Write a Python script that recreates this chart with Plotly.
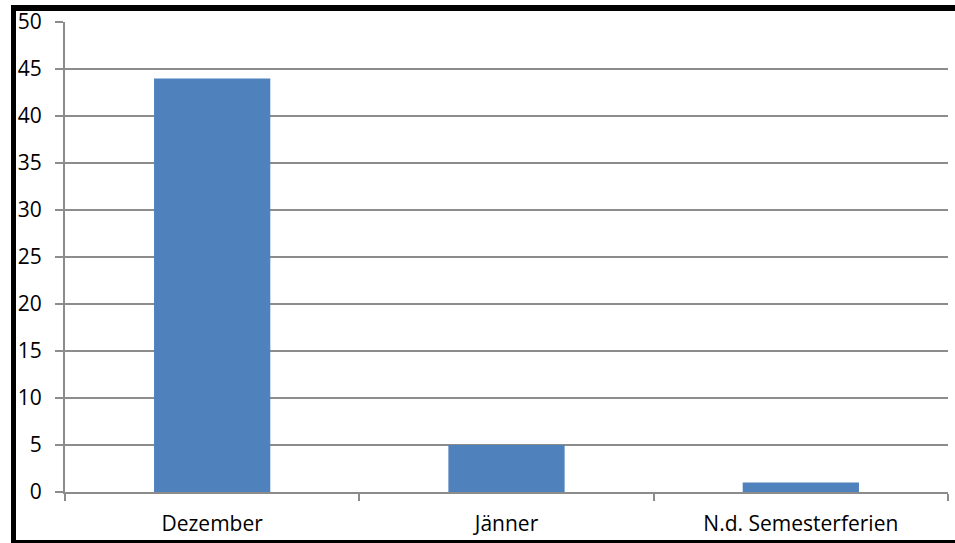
import plotly.graph_objects as go

categories = ["Dezember", "Jänner", "N.d. Semesterferien"]
values = [44, 5, 1]
y_ticks = [0, 5, 10, 15, 20, 25, 30, 35, 40, 45, 50]

W, H = 955, 543
L, R, T, B = 65, 7, 22, 51
pw, ph = W - L - R, H - T - B

def px(x):
    return (x - L) / pw

def py(y):
    return (H - B - y) / ph

fig = go.Figure(go.Bar(x=categories, y=values, marker=dict(color="#4f81bd", line=dict(width=0))))

grid = "#8c8c8c"
font = dict(family="Open Sans", size=21, color="#000000")

fig.update_layout(
    width=W, height=H,
    margin=dict(l=L, r=R, t=T, b=B, pad=0, autoexpand=False),
    paper_bgcolor="white", plot_bgcolor="white",
    bargap=0.605,
    showlegend=False,
    font=font,
    xaxis=dict(
        type="category", tickson="boundaries", ticks="outside", ticklen=7, tickwidth=2, tickcolor=grid,
        showline=True, linecolor=grid, linewidth=2, showgrid=False, tickfont=font,
        ticklabelstandoff=12, automargin=False,
    ),
    yaxis=dict(
        range=[0, 50], tickvals=y_ticks, ticktext=[str(v) for v in y_ticks],
        ticks="outside", ticklen=8, tickwidth=2, tickcolor=grid,
        showline=True, linecolor=grid, linewidth=2,
        showgrid=True, gridcolor=grid, gridwidth=2, zeroline=False, tickfont=font,
        ticklabelstandoff=9, automargin=False,
    ),
    shapes=[
        dict(type="rect", xref="paper", yref="paper", x0=px(11), x1=px(955), y0=py(5), y1=py(11),
             fillcolor="black", line=dict(width=0), layer="above"),
        dict(type="rect", xref="paper", yref="paper", x0=px(11), x1=px(16), y0=py(5), y1=py(543),
             fillcolor="black", line=dict(width=0), layer="above"),
        dict(type="rect", xref="paper", yref="paper", x0=px(11), x1=px(955), y0=py(540), y1=py(543),
             fillcolor="black", line=dict(width=0), layer="above"),
    ],
)

fig.write_html("out.html")
